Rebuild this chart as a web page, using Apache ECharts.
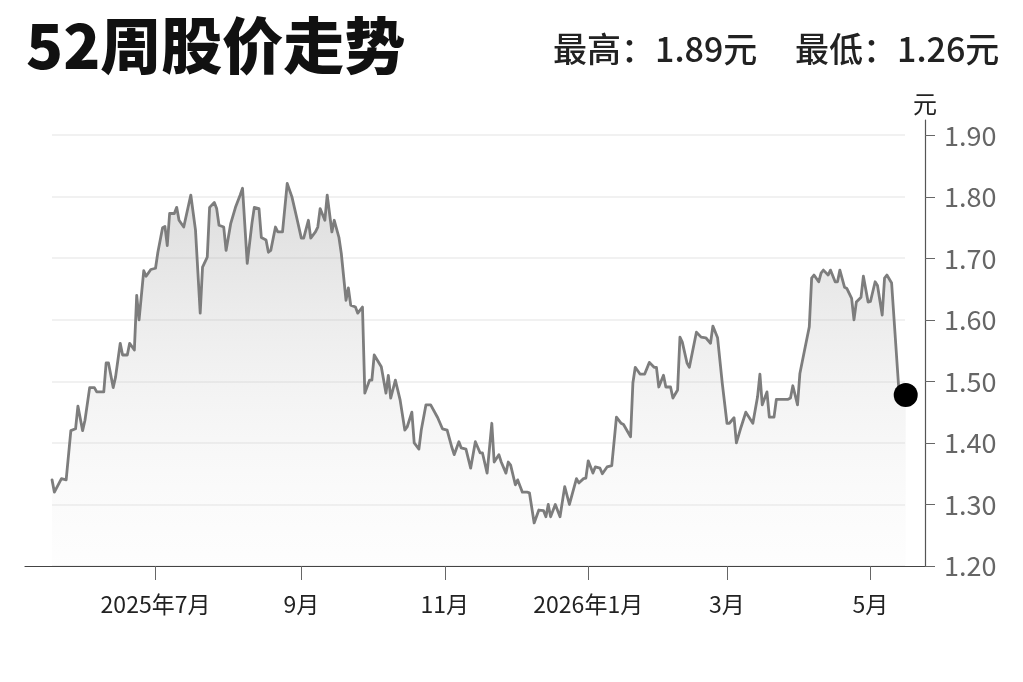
<!DOCTYPE html>
<html><head><meta charset="utf-8">
<script src="https://cdn.jsdelivr.net/npm/echarts@6/dist/echarts.min.js"></script>
<style>html,body{margin:0;padding:0;background:#fff}#c{width:1023px;height:682px}</style>
</head><body><div id="c"></div>
<script>
const titleText = '52周股价走势';
const highText = '最高：1.89元';
const lowText = '最低：1.26元';
const unitText = '元';
const startDate = '2025-05-18';
const dayOffsets = [0,1,4,6,8,10,11,13,14,16,18,19,22,23,24,26,27,29,30,32,33,35,36,37,39,40,42,44,45,47,48,49,50,52,53,54,56,59,61,63,64,66,67,69,70,71,73,74,76,78,80,81,83,85,86,88,89,91,92,93,95,96,98,100,102,104,106,107,109,110,112,113,114,116,117,119,120,122,123,125,126,127,129,130,132,133,135,136,137,140,142,143,144,146,148,150,151,153,154,156,157,159,161,164,166,168,170,171,173,174,176,178,180,182,183,185,187,188,190,191,193,194,195,197,198,200,202,203,205,207,209,210,211,212,214,216,218,220,223,224,226,227,228,230,231,233,234,236,238,240,242,243,246,247,248,250,252,254,256,257,258,260,261,263,264,266,267,268,270,271,274,276,278,280,281,283,285,287,288,290,291,293,295,298,300,301,302,304,305,307,308,313,314,315,317,318,320,322,323,324,326,327,328,330,331,333,334,335,337,338,340,341,342,344,345,347,348,350,351,353,354,355,357,360,363];
const prices = [1.34,1.32,1.342,1.34,1.42,1.423,1.46,1.42,1.437,1.49,1.49,1.483,1.483,1.53,1.53,1.49,1.507,1.562,1.543,1.543,1.562,1.551,1.64,1.60,1.68,1.671,1.682,1.684,1.71,1.75,1.752,1.721,1.773,1.773,1.783,1.762,1.751,1.803,1.746,1.611,1.686,1.702,1.783,1.791,1.781,1.754,1.751,1.713,1.757,1.783,1.803,1.814,1.692,1.757,1.783,1.781,1.734,1.73,1.71,1.713,1.751,1.743,1.743,1.822,1.80,1.767,1.733,1.733,1.762,1.733,1.743,1.751,1.781,1.762,1.803,1.743,1.762,1.734,1.708,1.632,1.652,1.624,1.621,1.611,1.621,1.481,1.502,1.502,1.543,1.524,1.481,1.51,1.473,1.502,1.47,1.421,1.426,1.45,1.40,1.39,1.421,1.462,1.462,1.441,1.423,1.421,1.393,1.381,1.402,1.392,1.39,1.359,1.402,1.384,1.384,1.351,1.432,1.369,1.381,1.369,1.351,1.369,1.364,1.332,1.34,1.32,1.32,1.319,1.27,1.291,1.29,1.28,1.30,1.28,1.30,1.28,1.329,1.30,1.342,1.335,1.342,1.343,1.371,1.351,1.361,1.359,1.35,1.361,1.363,1.442,1.432,1.43,1.41,1.498,1.523,1.512,1.512,1.531,1.523,1.523,1.491,1.51,1.491,1.491,1.473,1.486,1.572,1.564,1.53,1.523,1.58,1.572,1.571,1.562,1.59,1.571,1.497,1.432,1.432,1.441,1.40,1.426,1.45,1.432,1.475,1.512,1.462,1.483,1.442,1.442,1.471,1.471,1.473,1.493,1.462,1.513,1.551,1.589,1.668,1.673,1.662,1.676,1.681,1.673,1.681,1.662,1.662,1.681,1.653,1.651,1.635,1.60,1.629,1.637,1.671,1.629,1.63,1.662,1.656,1.608,1.668,1.673,1.66,1.491,1.478];
const tickDates = ['2025-07-01','2025-09-01','2025-11-01','2026-01-01','2026-03-01','2026-05-01'];
const tickLabels = ['2025年7月','9月','11月','2026年1月','3月','5月'];
const yTicks = [1.2,1.3,1.4,1.5,1.6,1.7,1.8,1.9];

const DAY = 86400000;
function ts(s){const p=s.split('-').map(Number);return Date.UTC(p[0],p[1]-1,p[2]);}
const t0 = ts(startDate);
const lineData = dayOffsets.map((d,i)=>[d, prices[i]]);
const lastPoint = lineData[lineData.length-1];
const tickDays = tickDates.map(s=>Math.round((ts(s)-t0)/DAY));
const labelMap = {};
tickDays.forEach((t,i)=>labelMap[t]=tickLabels[i]);
const FONT = 'Noto Sans CJK SC';

const chart = echarts.init(document.getElementById('c'));
chart.setOption({
  animation:false,
  backgroundColor:'#fff',
  textStyle:{fontFamily:FONT},
  title:[
    {text:titleText,left:21,top:10,textStyle:{fontSize:61,fontWeight:900,color:'#111',fontFamily:FONT}},
    {text:highText,left:548,top:27,textStyle:{fontSize:34,fontWeight:500,color:'#222',fontFamily:FONT}},
    {text:lowText,left:790,top:27,textStyle:{fontSize:34,fontWeight:500,color:'#222',fontFamily:FONT}}
  ],
  grid:[
    {left:25,right:98,top:120,bottom:116,containLabel:false},
    {left:52,right:118,top:135,bottom:116,containLabel:false}
  ],
  xAxis:[
    {type:'value',gridIndex:0,min:-11.5,max:371.2,
     axisLine:{show:true,onZero:false,lineStyle:{color:'#444',width:1.2}},
     axisTick:{show:true,customValues:tickDays,length:14,lineStyle:{color:'#666',width:1}},
     axisLabel:{show:true,customValues:tickDays,formatter:v=>labelMap[Math.round(v)]||'',color:'#222',fontSize:23,margin:27,fontFamily:FONT},
     splitLine:{show:false}},
    {type:'value',gridIndex:1,min:0,max:1,show:false}
  ],
  yAxis:[
    {type:'value',gridIndex:0,position:'right',min:1.2,max:1.925,
     name:unitText,nameLocation:'end',nameGap:4,nameTextStyle:{color:'#222',fontSize:24,fontFamily:FONT,align:'center'},
     axisLine:{show:true,onZero:false,lineStyle:{color:'#555',width:1.2}},
     axisTick:{show:true,customValues:yTicks,length:10,lineStyle:{color:'#666'}},
     axisLabel:{show:true,customValues:yTicks,formatter:v=>v.toFixed(2),color:'#666',fontSize:27,margin:19,fontFamily:FONT},
     splitLine:{show:false}},
    {type:'value',gridIndex:1,min:1.2,max:1.9,interval:0.1,
     axisLine:{show:false},axisTick:{show:false},axisLabel:{show:false},
     splitLine:{show:true,lineStyle:{color:'#ececec',width:1.5}}}
  ],
  series:[
    {type:'line',xAxisIndex:0,yAxisIndex:0,data:lineData,showSymbol:false,smooth:false,
     lineStyle:{color:'#7d7d7d',width:2.8,join:'round',cap:'round'},
     areaStyle:{color:new echarts.graphic.LinearGradient(0,0,0,1,[
       {offset:0,color:'rgba(155,155,155,0.5)'},{offset:1,color:'rgba(240,240,240,0.15)'}])},
     z:3},
    {type:'scatter',xAxisIndex:0,yAxisIndex:0,data:[lastPoint],symbolSize:24,
     itemStyle:{color:'#000',opacity:1},z:5}
  ]
});
</script></body></html>
